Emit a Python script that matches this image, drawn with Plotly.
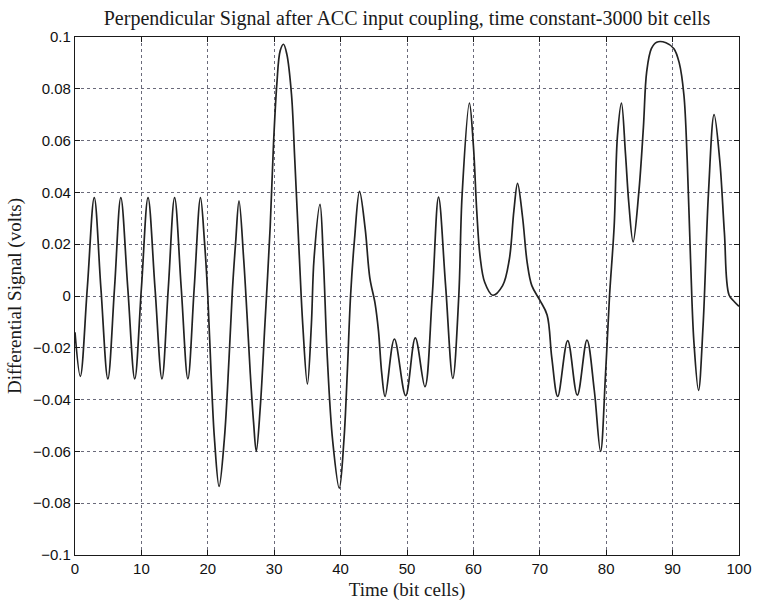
import plotly.graph_objects as go

# Time axis (bit cells) and signal (volts)
time_bits = [
    0.0, 0.8, 1.85, 2.9, 3.9, 4.95, 5.95, 6.9, 7.95, 9.0, 10.0, 11.0, 12.05, 13.1, 14.05,
    15.0, 16.0, 17.0, 17.95, 18.9, 19.5, 20.0, 20.5, 21.0, 21.7, 22.5, 23.2, 23.7, 24.2,
    24.7, 25.4, 25.9, 26.4, 26.9, 27.3, 27.9, 28.6, 29.4, 29.9, 30.4, 30.9, 31.4, 31.9,
    32.6, 33.1, 33.8, 34.3, 35.0, 35.6, 36.0, 36.9, 37.4, 38.0, 38.8, 39.8, 40.5, 41.0,
    41.5, 42.1, 42.85, 43.7, 44.4, 45.2, 45.7, 46.2, 46.7, 48.1, 49.8, 51.25, 52.7, 53.8,
    54.75, 55.8, 56.9, 57.8, 58.3, 59.4, 60.0, 60.5, 61.0, 61.7, 62.9, 64.4, 65.4, 66.1,
    66.65, 67.4, 68.1, 68.8, 70.0, 71.1, 71.8, 72.7, 74.2, 75.65, 77.1, 78.2, 79.15, 79.9,
    80.5, 81.2, 81.7, 82.3, 82.9, 83.4, 84.05, 84.9, 85.6, 86.1, 86.8, 87.6, 89.0, 90.2,
    91.0, 91.7, 92.2, 92.7, 93.2, 93.9, 94.6, 95.4, 96.25, 97.1, 97.8, 98.5, 99.3, 100.0,
]
signal_volts = [
    -0.014, -0.031, 0.003, 0.038, 0.003, -0.032, 0.003, 0.038, 0.003, -0.032, 0.003, 0.038, 0.003, -0.032, 0.003,
    0.038, 0.003, -0.032, 0.003, 0.038, 0.021, 0.000, -0.030, -0.055, -0.0735, -0.055, -0.024, 0.002, 0.021,
    0.0367, 0.0144, -0.007, -0.030, -0.049, -0.060, -0.043, -0.011, 0.027, 0.059, 0.082, 0.0947, 0.0972, 0.0934,
    0.078, 0.0526, 0.0144, -0.011, -0.034, -0.011, 0.0144, 0.0354, 0.0144, -0.0238, -0.0557, -0.0742, -0.0557, -0.030,
    0.000, 0.022, 0.0404, 0.026, 0.007, -0.003, -0.0134, -0.030, -0.0388, -0.0166, -0.0385, -0.0162, -0.035, 0.000,
    0.0382, 0.0045, -0.0318, 0.000, 0.039, 0.0745, 0.058, 0.033, 0.0154, 0.0053, 0.0003, 0.004, 0.014, 0.033,
    0.0435, 0.0305, 0.0129, 0.004, -0.0016, -0.0073, -0.0237, -0.0388, -0.0172, -0.0383, -0.0170, -0.0363, -0.0600, -0.030,
    0.000, 0.027, 0.062, 0.0745, 0.055, 0.036, 0.0209, 0.0397, 0.065, 0.0866, 0.0955, 0.098, 0.0978, 0.0955,
    0.090, 0.0777, 0.0524, 0.0143, -0.0174, -0.0364, -0.011, 0.0397, 0.070, 0.0524, 0.0245, 0.0004, -0.0022, -0.004,
]

x_tick_vals = [0, 10, 20, 30, 40, 50, 60, 70, 80, 90, 100]
x_tick_text = ["0", "10", "20", "30", "40", "50", "60", "70", "80", "90", "100"]
y_tick_vals = [-0.1, -0.08, -0.06, -0.04, -0.02, 0, 0.02, 0.04, 0.06, 0.08, 0.1]
y_tick_text = ["\u22120.1", "\u22120.08", "\u22120.06", "\u22120.04", "\u22120.02", "0",
               "0.02", "0.04", "0.06", "0.08", "0.1"]

title_text = "Perpendicular Signal after ACC input coupling, time constant-3000 bit cells"
x_title = "Time (bit cells)"
y_title = "Differential Signal (volts)"

serif = "Liberation Serif, Times New Roman, serif"
sans = "Liberation Sans, Arial, sans-serif"

fig = go.Figure()
fig.add_trace(go.Scatter(
    x=time_bits, y=signal_volts, mode="lines",
    line=dict(color="#222222", width=1.7, shape="spline", smoothing=1.0),
    showlegend=False, hoverinfo="skip",
))

axis_common = dict(
    showline=True, linecolor="#1a1a1a", linewidth=1.3, mirror="ticks",
    ticks="inside", ticklen=5, tickcolor="#1a1a1a",
    showgrid=True, gridcolor="#6a6a7a", gridwidth=1, griddash="dot",
    zeroline=False,
    tickfont=dict(family=sans, size=15, color="#111111"),
)

fig.update_layout(
    width=764, height=608,
    margin=dict(l=75, r=13, t=37, b=48),
    paper_bgcolor="white", plot_bgcolor="white",
    title=dict(text=title_text, x=0.5, xref="paper", xanchor="center",
               y=1 - 18 / 608, yref="container", yanchor="middle",
               font=dict(family=serif, size=20, color="#1a1a1a")),
    xaxis=dict(range=[0, 100], tickvals=x_tick_vals, ticktext=x_tick_text,
               title=dict(text=x_title, font=dict(family=serif, size=19, color="#1a1a1a"), standoff=6),
               **axis_common),
    yaxis=dict(range=[-0.1, 0.1], tickvals=y_tick_vals, ticktext=y_tick_text,
               title=dict(text=y_title, font=dict(family=serif, size=19, color="#1a1a1a"), standoff=6),
               **axis_common),
)

fig.write_html("out.html")
